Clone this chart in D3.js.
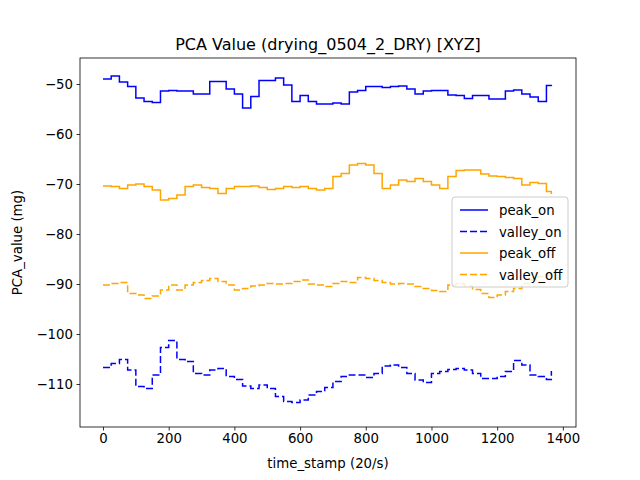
<!DOCTYPE html>
<html>
<head>
<meta charset="utf-8">
<script src="https://cdn.jsdelivr.net/npm/d3@7"></script>
<style>
  body { margin: 0; background: #fff; }
  text { font-family: "DejaVu Sans", sans-serif; }
</style>
</head>
<body>
<div id="chart"></div>
<script>
// sample times (every 25 steps) plus the last stamp
const timeStamps = d3.range(0, 1375, 25).concat([1365]);

const peakOn = [-49.0,-48.4,-49.6,-50.5,-52.8,-53.5,-53.7,-51.4,-51.3,-51.4,-51.4,-52.0,-52.0,-49.5,-49.5,-51.0,-52.0,-54.8,-52.5,-49.3,-49.3,-48.8,-50.2,-53.5,-52.3,-53.5,-54.0,-54.0,-53.8,-54.0,-51.6,-51.3,-50.5,-50.5,-50.7,-50.5,-50.4,-51.0,-52.0,-51.4,-51.3,-51.3,-52.2,-52.3,-52.9,-52.3,-52.3,-53.0,-53.0,-51.4,-51.2,-52.0,-52.6,-53.5,-50.3,-50.4];
const valleyOn = [-106.7,-105.9,-105.1,-107.2,-110.5,-110.9,-108.2,-102.7,-101.3,-105.1,-105.5,-107.9,-108.2,-107.2,-106.9,-108.5,-109.1,-110.4,-110.9,-110.2,-110.9,-112.5,-113.5,-113.7,-113.2,-112.2,-111.5,-110.7,-109.5,-108.5,-108.2,-108.2,-108.7,-107.9,-106.4,-106.2,-106.7,-107.9,-109.2,-109.7,-107.9,-107.5,-107.1,-106.9,-107.2,-107.9,-108.9,-108.9,-108.5,-107.5,-105.3,-106.2,-108.2,-108.5,-109.1,-107.4];
const peakOff = [-70.4,-70.5,-70.9,-70.2,-70.0,-70.5,-71.2,-73.2,-72.9,-72.2,-70.5,-70.2,-70.7,-70.9,-71.9,-70.9,-70.5,-70.5,-70.4,-70.7,-71.1,-70.9,-70.5,-70.7,-70.5,-70.9,-71.2,-70.9,-68.5,-67.9,-66.2,-65.9,-66.2,-67.9,-70.9,-70.2,-69.2,-69.5,-68.9,-69.5,-70.2,-70.9,-68.5,-67.3,-67.2,-67.2,-68.0,-68.4,-68.5,-68.7,-68.9,-70.2,-69.7,-69.9,-71.5,-72.0];
const valleyOff = [-90.2,-89.9,-89.7,-91.9,-92.2,-92.9,-92.4,-91.2,-90.2,-91.2,-90.2,-89.7,-89.3,-88.9,-89.5,-90.2,-91.2,-90.9,-90.4,-90.2,-89.9,-90.0,-89.9,-89.5,-89.2,-90.0,-90.2,-90.5,-89.9,-89.5,-89.7,-88.7,-88.9,-89.3,-89.7,-90.0,-89.9,-90.0,-90.5,-90.9,-91.3,-91.5,-90.2,-89.9,-90.4,-91.1,-91.9,-92.7,-92.2,-91.5,-90.9,-89.9,-89.2,-88.5,-88.3,-88.5];

const xTicks = [0, 200, 400, 600, 800, 1000, 1200, 1400];
const yTicks = [-50, -60, -70, -80, -90, -100, -110];

const seriesList = [
  { name: "peak_on", values: peakOn, color: "blue", dash: null },
  { name: "valley_on", values: valleyOn, color: "blue", dash: "7,3" },
  { name: "peak_off", values: peakOff, color: "orange", dash: null },
  { name: "valley_off", values: valleyOff, color: "orange", dash: "7,3" }
];

const width = 640, height = 480,
  margin = { top: 58, right: 64, bottom: 53, left: 80 },
  innerWidth = width - margin.left - margin.right,
  innerHeight = height - margin.top - margin.bottom;

const xScale = d3.scaleLinear().domain([-70, 1440]).range([0, innerWidth]);
const yScale = d3.scaleLinear().domain([-118.6, -44.8]).range([innerHeight, 0]);

const svg = d3.select("#chart").append("svg")
  .attr("width", width).attr("height", height);

const mainG = svg.append("g")
  .attr("transform", `translate(${margin.left},${margin.top})`);

const line = d3.line()
  .x((d, i) => xScale(timeStamps[i]))
  .y(d => yScale(d))
  .curve(d3.curveStepAfter);

mainG.selectAll("path.series")
  .data(seriesList)
  .enter()
  .append("path")
  .attr("class", "series")
  .attr("fill", "none")
  .attr("stroke", d => d.color)
  .attr("stroke-width", 1.5)
  .attr("stroke-dasharray", d => d.dash)
  .attr("d", d => line(d.values));

// axes
const xAxis = mainG.append("g")
  .attr("transform", `translate(0,${innerHeight})`)
  .call(d3.axisBottom(xScale).tickValues(xTicks).tickSize(3.5).tickPadding(3.5).tickFormat(d3.format("d")));
const yAxis = mainG.append("g")
  .call(d3.axisLeft(yScale).tickValues(yTicks).tickSize(3.5).tickPadding(3.5).tickFormat(d => "\u2212" + Math.abs(d)));
[xAxis, yAxis].forEach(a => {
  a.select(".domain").remove();
  a.selectAll("text").attr("font-size", 13.3).attr("fill", "#000").style("font-family", "DejaVu Sans");
  a.selectAll("line").attr("stroke", "#000").attr("stroke-width", 0.8);
});

mainG.append("rect")
  .attr("width", innerWidth).attr("height", innerHeight)
  .attr("fill", "none").attr("stroke", "#000").attr("stroke-width", 0.8);

// labels
svg.append("text")
  .attr("x", margin.left + innerWidth / 2).attr("y", margin.top - 8)
  .attr("text-anchor", "middle").attr("font-size", 16)
  .text("PCA Value (drying_0504_2_DRY) [XYZ]");
svg.append("text")
  .attr("x", margin.left + innerWidth / 2).attr("y", 468)
  .attr("text-anchor", "middle").attr("font-size", 13.3)
  .text("time_stamp (20/s)");
svg.append("text")
  .attr("transform", `translate(22,${margin.top + innerHeight / 2}) rotate(-90)`)
  .attr("text-anchor", "middle").attr("font-size", 13.3)
  .text("PCA_value (mg)");

// legend
const legend = svg.append("g").attr("transform", "translate(452,197)");
legend.append("rect")
  .attr("width", 116).attr("height", 90).attr("rx", 3)
  .attr("fill", "#fff").attr("fill-opacity", 0.8)
  .attr("stroke", "#ccc");
const items = legend.selectAll("g.item")
  .data(seriesList).enter().append("g")
  .attr("transform", (d, i) => `translate(8,${13 + i * 21.5})`);
items.append("line")
  .attr("x1", 0).attr("x2", 28)
  .attr("stroke", d => d.color).attr("stroke-width", 1.5)
  .attr("stroke-dasharray", d => d.dash);
items.append("text")
  .attr("x", 39).attr("y", 5).attr("font-size", 13.3)
  .text(d => d.name);
</script>
</body>
</html>
